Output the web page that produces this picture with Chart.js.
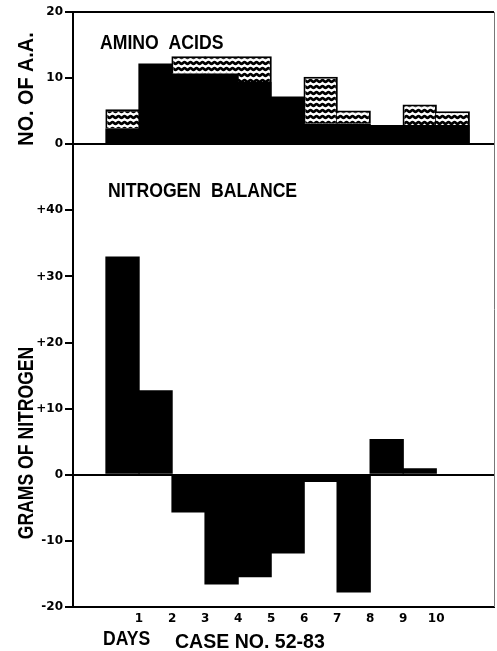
<!DOCTYPE html>
<html>
<head>
<meta charset="utf-8">
<script src="https://cdn.jsdelivr.net/npm/chart.js@4.4.1/dist/chart.umd.min.js"></script>
<style>
  html, body { margin: 0; padding: 0; background: #fff; }
  canvas { display: block; }
</style>
</head>
<body>
<canvas id="chart" width="497" height="651"></canvas>
<script>
// day number at the right edge of each bar (bar n covers day n-1 .. n)
var days = [1, 2, 3, 4, 5, 6, 7, 8, 9, 10, 11];
var dayTicks = [1, 2, 3, 4, 5, 6, 7, 8, 9, 10];

// amino acids: solid part and wavy-hatched part of each bar
var aaBlack = [2.4, 12.2, 10.7, 10.7, 9.4, 7.2, 3.1, 3.1, 2.9, 2.9, 2.9];
var aaHatch = [2.9, 0, 2.6, 2.6, 3.9, 0, 7.1, 2.0, 0, 3.1, 2.1];

// nitrogen balance, grams
var nitrogen = [33, 12.8, -5.7, -16.6, -15.5, -11.9, -1.1, -17.8, 5.4, 1.0];

var aaTicks = [0, 10, 20];
var nTicks = [-20, -10, 0, 10, 20, 30, 40];

var FONT = '"Liberation Sans", Arial, sans-serif';

function toPoints(vals) {
    var pts = [];
    for (let i in vals) {
        pts.push({x: days[i] - 0.5, y: vals[i]});
    }
    return pts;
}

function wavePattern() {
    var c = document.createElement('canvas');
    c.width = 6;
    c.height = 6;
    var g = c.getContext('2d');
    g.fillStyle = '#fff';
    g.fillRect(0, 0, 6, 6);
    g.strokeStyle = '#000';
    g.lineWidth = 2.6;
    g.beginPath();
    for (var x = -1; x <= 7; x += 0.5) {
        var y = 3 + Math.sin(x / 6 * Math.PI * 2) * 0.9;
        if (x === -1) g.moveTo(x, y); else g.lineTo(x, y);
    }
    g.stroke();
    return g.createPattern(c, 'repeat');
}

function aaTotal(j) {
    if (j < 0 || j >= aaBlack.length) return 0;
    return Math.round((aaBlack[j] + aaHatch[j]) * 10);
}

function put(ctx, text, x, y, size, sx, align, rot) {
    ctx.save();
    ctx.translate(x, y);
    if (rot) ctx.rotate(rot);
    ctx.scale(sx, 1);
    ctx.font = 'bold ' + size + 'px ' + FONT;
    ctx.textAlign = align;
    ctx.textBaseline = 'alphabetic';
    ctx.fillStyle = '#000';
    ctx.fillText(text, 0, 0);
    ctx.restore();
}

var labelsPlugin = {
    id: 'labels',
    afterDraw: function(chart) {
        var ctx = chart.ctx;
        var a = chart.chartArea;
        ctx.save();
        ctx.strokeStyle = '#777';
        ctx.lineWidth = 1;
        ctx.beginPath();
        ctx.moveTo(a.right + 0.5, a.top);
        ctx.lineTo(a.right + 0.5, a.bottom);
        ctx.stroke();
        ctx.restore();

        put(ctx, 'AMINO  ACIDS', 100, 49, 21, 0.84, 'left');
        put(ctx, 'NITROGEN  BALANCE', 108, 197, 21, 0.84, 'left');
        put(ctx, 'NO. OF A.A.', 33, 89, 22, 0.9, 'center', -Math.PI / 2);
        put(ctx, 'GRAMS OF NITROGEN', 33, 443, 22, 0.8, 'center', -Math.PI / 2);
        put(ctx, 'DAYS', 103, 645, 20, 0.88, 'left');
        put(ctx, 'CASE NO. 52-83', 175, 648, 21, 0.93, 'left');
    }
};

var tickFont = {family: '"DejaVu Sans", sans-serif', size: 12, weight: 'bold'};

var ctx = document.getElementById('chart').getContext('2d');
var chart = new Chart(ctx, {
    type: 'bar',
    data: {
        datasets: [{
            label: 'Nitrogen balance',
            data: toPoints(nitrogen),
            yAxisID: 'y',
            backgroundColor: '#000',
            borderWidth: 0,
            grouped: false,
            categoryPercentage: 1,
            barPercentage: 1.04
        }, {
            label: 'Amino acids',
            data: toPoints(aaBlack),
            yAxisID: 'y2',
            stack: 'aa',
            backgroundColor: '#000',
            borderWidth: 0,
            grouped: false,
            categoryPercentage: 1,
            barPercentage: 1.04
        }, {
            label: 'Amino acids (hatched)',
            data: toPoints(aaHatch),
            yAxisID: 'y2',
            stack: 'aa',
            backgroundColor: wavePattern(),
            borderColor: '#000',
            borderSkipped: false,
            borderWidth: function(c) {
                var i = c.dataIndex;
                if (!aaHatch[i]) return 0;
                var t = aaTotal(i);
                return {
                    top: 2,
                    bottom: 0,
                    left: aaTotal(i - 1) < t ? 2 : 0,
                    right: aaTotal(i + 1) < t ? 2 : 0
                };
            },
            grouped: false,
            categoryPercentage: 1,
            barPercentage: 1.04
        }]
    },
    options: {
        responsive: false,
        animation: false,
        devicePixelRatio: 1,
        layout: {padding: {top: 12, right: 3, bottom: 0, left: 0}},
        plugins: {
            legend: {display: false},
            tooltip: {enabled: false}
        },
        scales: {
            x: {
                type: 'linear',
                offset: false,
                min: -1,
                max: 11.75,
                grid: {display: false, drawTicks: false},
                border: {display: true, color: '#000', width: 2},
                ticks: {
                    stepSize: 1,
                    includeBounds: false,
                    autoSkip: false,
                    maxRotation: 0,
                    padding: 5,
                    color: '#000',
                    font: tickFont,
                    callback: function(v) {
                        return dayTicks.indexOf(v) >= 0 ? String(v) : '';
                    }
                },
                afterFit: function(scale) { scale.height = 44; }
            },
            y: {
                type: 'linear',
                position: 'left',
                stack: 'panels',
                stackWeight: 7,
                min: -20,
                max: 50,
                border: {display: true, color: '#000', width: 2},
                grid: {
                    drawOnChartArea: true,
                    drawTicks: true,
                    tickLength: 8,
                    tickWidth: 2,
                    tickColor: function(c) { return c.tick && c.tick.value === 50 ? 'rgba(0,0,0,0)' : '#000'; },
                    color: function(c) { return c.tick && c.tick.value === 0 ? '#000' : 'rgba(0,0,0,0)'; },
                    lineWidth: 2
                },
                ticks: {
                    stepSize: 10,
                    padding: 2,
                    color: '#000',
                    font: tickFont,
                    callback: function(v) {
                        if (nTicks.indexOf(v) < 0) return '';
                        return v > 0 ? '+' + v : String(v);
                    }
                },
                afterFit: function(scale) { scale.width = 73; }
            },
            y2: {
                type: 'linear',
                position: 'left',
                stack: 'panels',
                stackWeight: 2,
                stacked: true,
                min: 0,
                max: 20,
                border: {display: true, color: '#000', width: 2},
                grid: {
                    drawOnChartArea: true,
                    drawTicks: true,
                    tickLength: 8,
                    tickWidth: 2,
                    tickColor: '#000',
                    color: function(c) { return c.tick && c.tick.value === 10 ? 'rgba(0,0,0,0)' : '#000'; },
                    lineWidth: 2
                },
                ticks: {
                    stepSize: 10,
                    padding: 2,
                    color: '#000',
                    font: tickFont,
                    callback: function(v) {
                        return aaTicks.indexOf(v) >= 0 ? String(v) : '';
                    }
                },
                afterFit: function(scale) { scale.width = 73; }
            }
        }
    },
    plugins: [labelsPlugin]
});
</script>
</body>
</html>
